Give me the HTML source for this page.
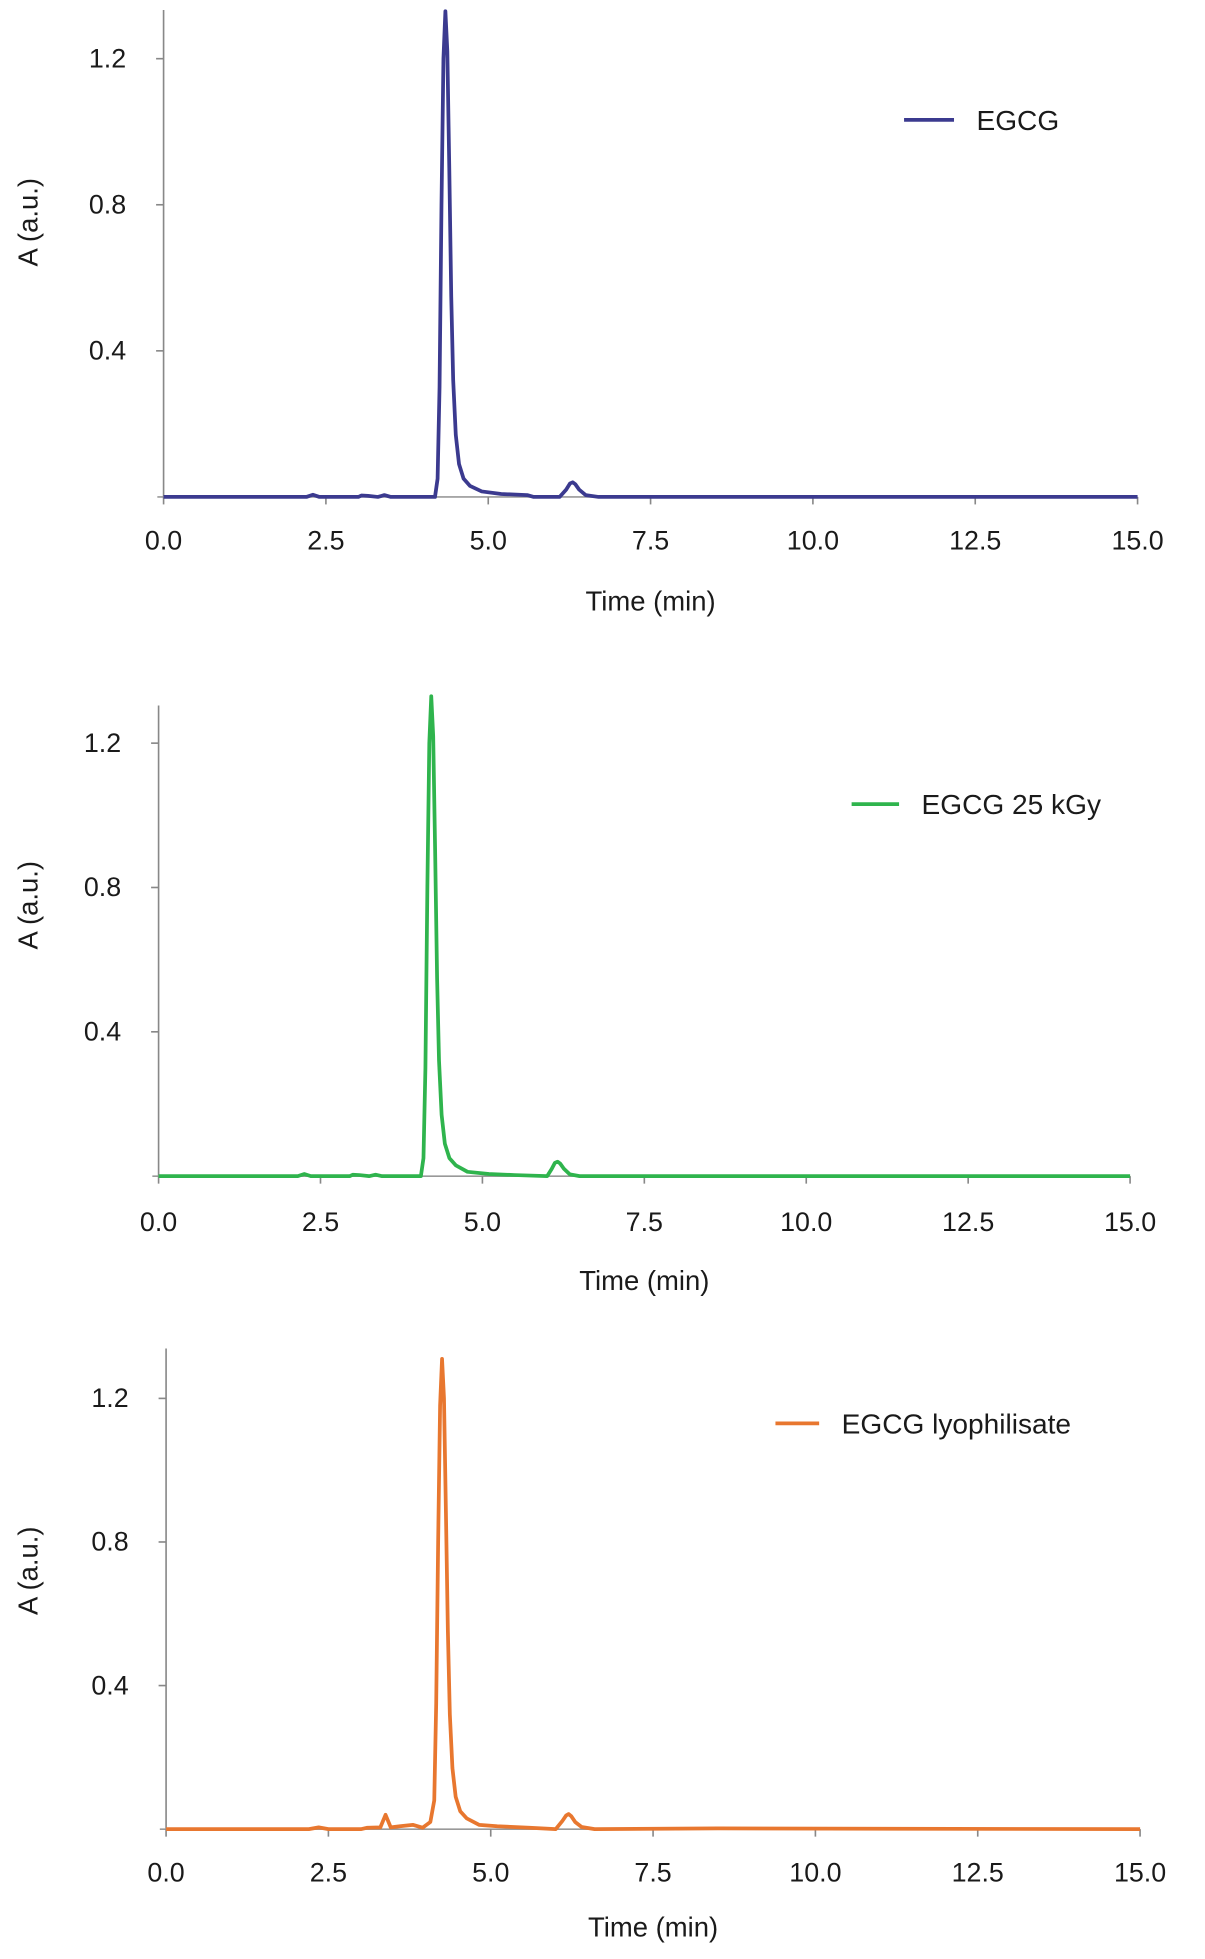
<!DOCTYPE html>
<html><head><meta charset="utf-8"><style>
html,body{margin:0;padding:0;background:#fff;}
svg{display:block;}
text{font-family:"Liberation Sans",Arial,sans-serif;fill:#1a1a1a;}
</style></head><body>
<svg id="chart" width="1205" height="1959" viewBox="0 0 965 1569" preserveAspectRatio="none" xmlns="http://www.w3.org/2000/svg"></svg>
<script>
const xTicks = [0, 2.5, 5, 7.5, 10, 12.5, 15];
const xTickLabels = ["0.0","2.5","5.0","7.5","10.0","12.5","15.0"];
const yTicks = [0.4, 0.8, 1.2];
const yTickLabels = ["0.4","0.8","1.2"];

const egcgTime = [0,2.2,2.3,2.4,3.0,3.05,3.15,3.3,3.4,3.5,4.18,4.22,4.25,4.28,4.31,4.34,4.37,4.40,4.43,4.46,4.5,4.55,4.62,4.72,4.9,5.2,5.6,5.7,6.1,6.2,6.26,6.3,6.34,6.4,6.5,6.7,15];
const egcgAbs  = [0,0,0.006,0,0,0.004,0.003,0,0.005,0,0,0.05,0.3,0.8,1.2,1.33,1.22,0.9,0.55,0.32,0.17,0.09,0.05,0.03,0.015,0.008,0.005,0,0,0.02,0.037,0.04,0.035,0.02,0.005,0,0];

const irrTime = [0,2.15,2.25,2.35,2.95,3.0,3.1,3.25,3.35,3.45,4.05,4.09,4.12,4.15,4.18,4.21,4.24,4.27,4.30,4.33,4.37,4.42,4.49,4.59,4.77,5.1,5.5,6.0,6.07,6.12,6.16,6.2,6.26,6.35,6.5,15];
const irrAbs  = [0,0,0.006,0,0,0.004,0.003,0,0.004,0,0,0.05,0.3,0.8,1.2,1.33,1.22,0.9,0.55,0.32,0.17,0.09,0.05,0.03,0.012,0.006,0.003,0,0.02,0.037,0.04,0.035,0.02,0.005,0,0];

const lyoTime = [0,2.2,2.35,2.5,3.0,3.1,3.3,3.38,3.46,3.6,3.8,3.95,4.07,4.13,4.16,4.19,4.22,4.25,4.28,4.31,4.34,4.37,4.41,4.46,4.53,4.63,4.82,5.1,5.6,6.0,6.1,6.16,6.2,6.24,6.3,6.4,6.6,8.5,15];
const lyoAbs  = [0,0,0.005,0,0,0.004,0.005,0.04,0.005,0.008,0.012,0.004,0.02,0.08,0.35,0.8,1.18,1.31,1.2,0.88,0.55,0.32,0.17,0.09,0.05,0.03,0.012,0.008,0.004,0,0.022,0.038,0.042,0.036,0.02,0.006,0,0.002,0];

const NS = "http://www.w3.org/2000/svg";
const svg = document.getElementById('chart');
function el(tag, attrs, parent){const e=document.createElementNS(NS,tag);for(const k in attrs)e.setAttribute(k,attrs[k]);(parent||svg).appendChild(e);return e;}

const panels = [
 {key:'egcg', t:egcgTime, a:egcgAbs, color:'#3b3a8f', x0:131, x1:911, y0:398, top:8, yScale:292.5, xLab:433, xTitle:481, yTitleY:178, leg:[724,764,96], label:'EGCG'},
 {key:'egcg-25kgy', t:irrTime, a:irrAbs, color:'#2fb44d', x0:127, x1:905, y0:942, top:565, yScale:289, xLab:979, xTitle:1025, yTitleY:725, leg:[682,720,644], label:'EGCG 25 kGy'},
 {key:'egcg-lyophilisate', t:lyoTime, a:lyoAbs, color:'#e8772f', x0:133, x1:913, y0:1465, top:1080, yScale:287.5, xLab:1500, xTitle:1543, yTitleY:1258, leg:[621,656,1140], label:'EGCG lyophilisate'}
];

panels.forEach(p=>{
  const g = el('g',{});
  
  
  const xs = v => p.x0 + (p.x1-p.x0)*v/15;
  const ys = v => p.y0 - v*p.yScale;
  const ya = el('line',{x1:p.x0,y1:p.top,x2:p.x0,y2:p.y0,stroke:'#888','stroke-width':1.3},g);
  
  
  const xa = el('line',{x1:p.x0-5,y1:p.y0,x2:p.x1,y2:p.y0,stroke:'#999','stroke-width':1.3},g);
  
  
  xTicks.forEach((v,i)=>{
    el('line',{x1:xs(v),y1:p.y0,x2:xs(v),y2:p.y0+6,stroke:'#888','stroke-width':1.3},g);
    const t = el('text',{x:xs(v),y:p.xLab+7,'text-anchor':'middle','font-size':21.5},g);
    t.textContent = xTickLabels[i];
    
    
  });
  yTicks.forEach((v,i)=>{
    el('line',{x1:p.x0-6,y1:ys(v),x2:p.x0,y2:ys(v),stroke:'#888','stroke-width':1.3},g);
    const t = el('text',{x:p.x0-30,y:ys(v)+7,'text-anchor':'end','font-size':21.5},g);
    t.textContent = yTickLabels[i];
    
    
  });
  const xt = el('text',{x:(p.x0+p.x1)/2,y:p.xTitle+8,'text-anchor':'middle','font-size':22},g);
  xt.textContent = 'Time (min)';
  
  
  const yt = el('text',{x:0,y:0,'text-anchor':'middle','font-size':22,transform:`translate(30,${p.yTitleY}) rotate(-90)`},g);
  yt.textContent = 'A (a.u.)';
  
  
  const d = p.t.map((v,i)=>(i?'L':'M')+xs(v).toFixed(2)+','+ys(p.a[i]).toFixed(2)).join(' ');
  const path = el('path',{d:d,fill:'none',stroke:p.color,'stroke-width':3,'stroke-linejoin':'round'},g);
  
  
  const lg = el('g',{},g);
  
  
  el('line',{x1:p.leg[0],y1:p.leg[2],x2:p.leg[1],y2:p.leg[2],stroke:p.color,'stroke-width':3},lg);
  const lt = el('text',{x:p.leg[1]+18,y:p.leg[2]+8,'font-size':22.5},lg);
  lt.textContent = p.label;
});
</script>
</body></html>
